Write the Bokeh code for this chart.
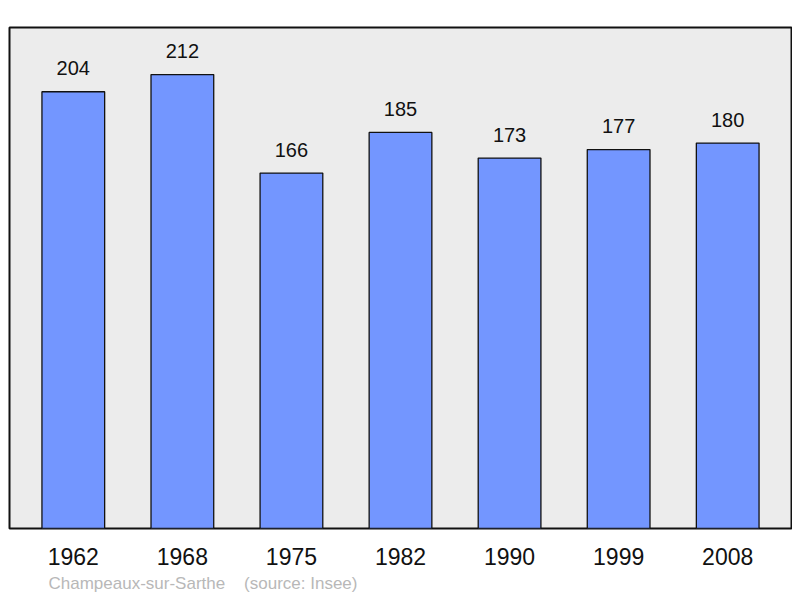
from bokeh.plotting import figure
from bokeh.models import ColumnDataSource, LabelSet, FixedTicker, Range1d, Title
from bokeh.core.properties import value
from bokeh.embed import file_html
from bokeh.resources import INLINE

years = ["1962", "1968", "1975", "1982", "1990", "1999", "2008"]
population = [204, 212, 166, 185, 173, 177, 180]
caption = "Champeaux-sur-Sarthe\u00a0\u00a0\u00a0\u00a0(source: Insee)"

xs = list(range(len(years)))
src = ColumnDataSource(dict(x=xs, top=population, label=[str(v) for v in population]))

p = figure(width=792, height=597, output_backend="svg", toolbar_location=None,
           x_range=Range1d(-0.585, 6.585), y_range=Range1d(0, 234),
           min_border_left=9, min_border_right=1, min_border_top=27, min_border_bottom=0)
p.background_fill_color = "#ececec"
p.border_fill_color = "white"
p.outline_line_color = "#111111"
p.outline_line_width = 2
p.xgrid.visible = False
p.ygrid.visible = False
p.yaxis.visible = False

p.vbar(x="x", top="top", bottom=0, width=0.575, source=src,
       fill_color="#7396ff", line_color="#111111", line_width=1.3)

labels = LabelSet(x="x", y="top", text="label", source=src, text_align="center",
                  text_baseline="alphabetic", y_offset=16.5, text_font=value("Liberation Sans"),
                  text_font_size=value("20px"), text_color=value("#111111"))
p.add_layout(labels)

ax = p.xaxis[0]
ax.ticker = FixedTicker(ticks=xs)
ax.major_label_overrides = {i: y for i, y in enumerate(years)}
ax.axis_line_color = None
ax.major_tick_line_color = None
ax.minor_tick_line_color = None
ax.major_tick_out = 0
ax.major_tick_in = 0
ax.major_label_standoff = 19
ax.major_label_text_font = "Liberation Sans"
ax.major_label_text_font_size = "23px"
ax.major_label_text_color = "#111111"

t = Title(text=caption, align="left", offset=39, text_font="Liberation Sans",
          text_font_size="17px", text_font_style="normal", text_color="#b8b8b8", standoff=9)
p.add_layout(t, "below")

open("out.html", "w").write(file_html(p, INLINE))
